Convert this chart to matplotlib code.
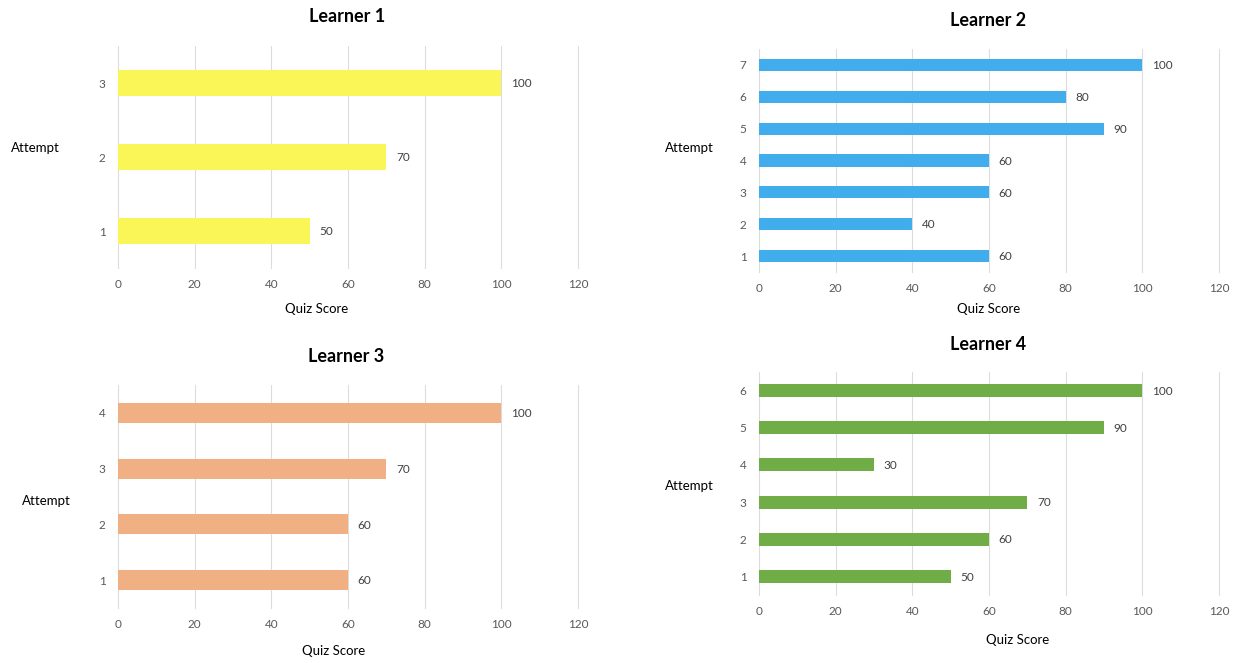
import matplotlib
matplotlib.use("Agg")
import matplotlib.pyplot as plt

plt.rcParams['font.family'] = ['Lato', 'DejaVu Sans']

W, H = 1241, 663

titles = ["Learner 1", "Learner 2", "Learner 3", "Learner 4"]
attempts_1 = [1, 2, 3]
scores_1 = [50, 70, 100]
attempts_2 = [1, 2, 3, 4, 5, 6, 7]
scores_2 = [60, 40, 60, 60, 90, 80, 100]
attempts_3 = [1, 2, 3, 4]
scores_3 = [60, 60, 70, 100]
attempts_4 = [1, 2, 3, 4, 5, 6]
scores_4 = [50, 60, 70, 30, 90, 100]
x_ticks = [0, 20, 40, 60, 80, 100, 120]
x_label = "Quiz Score"
y_label = "Attempt"

colors = ["#FBF657", "#41ADEC", "#F1B084", "#70AD47"]

# layout in pixels: (left, right, top, bottom), title pos, xlabel pos, ylabel pos, bar height
layouts = [
    dict(box=(118, 578, 46, 268), title=(347, 17), xl=(317, 309), yl=(35, 148), bh=0.35),
    dict(box=(759, 1219, 49, 272), title=(988, 20), xl=(989, 309), yl=(689, 148), bh=0.38),
    dict(box=(118, 578, 385, 608), title=(346, 356), xl=(334, 651), yl=(46, 501), bh=0.36),
    dict(box=(759, 1219, 372, 595), title=(988, 345), xl=(1018, 640), yl=(689, 486), bh=0.35),
]

data = [(attempts_1, scores_1), (attempts_2, scores_2),
        (attempts_3, scores_3), (attempts_4, scores_4)]

fig = plt.figure(figsize=(W / 100, H / 100), dpi=100)

def fx(px):
    return px / W

def fy(py):
    return 1 - py / H

for i, ((att, sc), lay) in enumerate(zip(data, layouts)):
    l, r, t, b = lay['box']
    ax = fig.add_axes([fx(l), fy(b), (r - l) / W, (b - t) / H])
    ax.barh(att, sc, height=lay['bh'], color=colors[i], zorder=2)
    ax.set_xlim(0, 120)
    ax.set_ylim(0.5, len(att) + 0.5)
    ax.set_xticks(x_ticks)
    ax.set_yticks(att)
    ax.set_yticklabels([str(a) for a in att])
    ax.grid(axis='x', color='#DCDCDC', linewidth=0.8, zorder=0)
    for gl in ax.get_xgridlines():
        gl.set_clip_on(False)
    ax.set_axisbelow(True)
    for s in ax.spines.values():
        s.set_visible(False)
    ax.tick_params(axis='both', length=0, labelsize=8.5, labelcolor='#595959')
    ax.tick_params(axis='x', pad=8)
    ax.tick_params(axis='y', pad=9)
    for a, s in zip(att, sc):
        ax.annotate(str(s), (s, a), xytext=(7, -0.5), textcoords='offset points',
                    va='center', ha='left', fontsize=8.5, color='#404040')
    tx, ty = lay['title']
    fig.text(fx(tx), fy(ty), titles[i], ha='center', va='center',
             fontsize=13, fontweight='bold', color='black')
    xx, xy = lay['xl']
    fig.text(fx(xx), fy(xy), x_label, ha='center', va='center', fontsize=9.5, color='black')
    yx, yy = lay['yl']
    fig.text(fx(yx), fy(yy), y_label, ha='center', va='center', fontsize=9.5, color='black')

fig.savefig("out.png", dpi=100, facecolor='white')
